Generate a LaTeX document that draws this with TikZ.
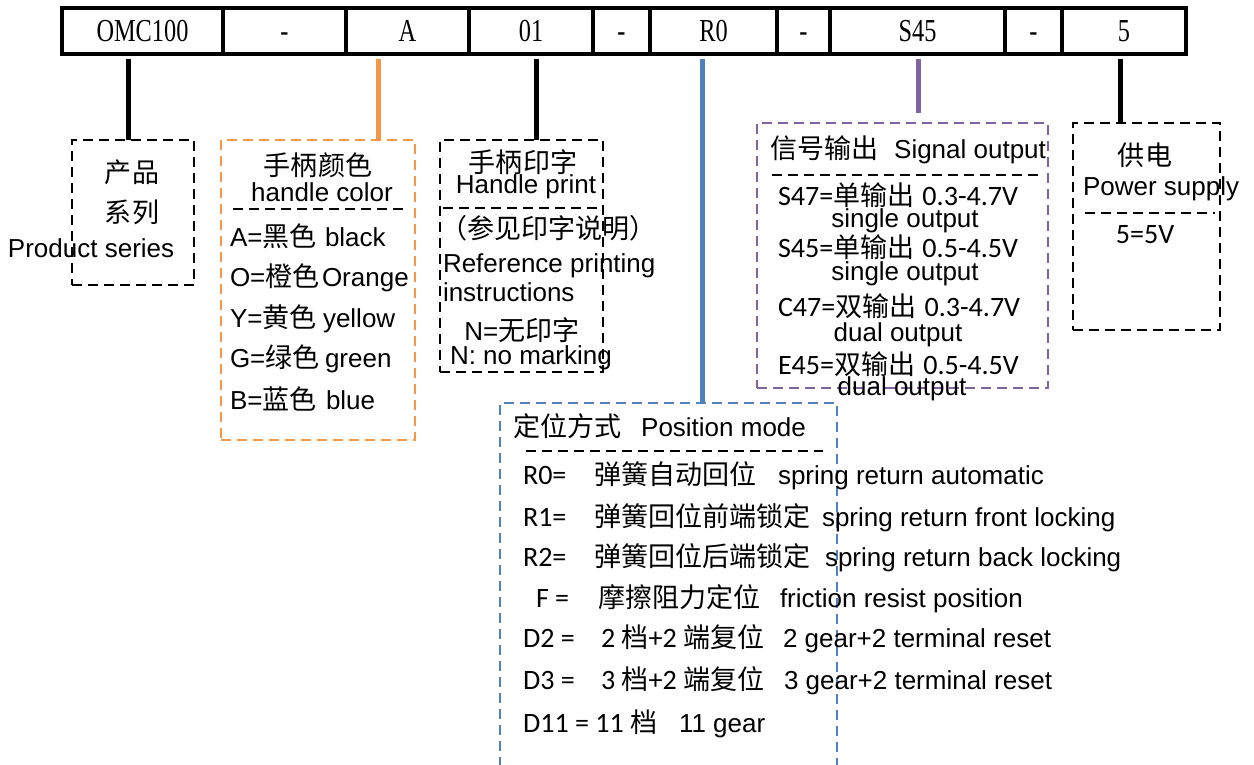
\documentclass[tikz,border=0pt]{standalone}
\usepackage{fontspec}
\setmainfont{Liberation Sans}
\newfontfamily\cjkfont[Scale=1.04]{Noto Sans CJK SC}
\newfontfamily\califont[Scale=1.08]{Carlito}
\newfontfamily\barfont[FakeStretch=0.76]{Liberation Serif}
\newcommand{\zh}[1]{{\cjkfont #1}}
\newcommand{\cb}[1]{{\califont #1}}
\definecolor{ocol}{HTML}{F79646}
\definecolor{bcol}{HTML}{4F81BD}
\definecolor{pcol}{HTML}{8064A2}
\begin{document}
\begin{tikzpicture}[x=1pt,y=-1pt,
  cell/.style={draw=black,line width=4pt,minimum height=46pt,inner sep=0pt,outer sep=0pt,text height=21pt,text depth=0pt,font=\barfont\fontsize{32}{34}\selectfont},
  boxd/.style={draw=#1,line width=2.5pt,dash pattern=on 10pt off 6pt,inner sep=0pt,outer sep=0pt},
  divline/.style={draw=black,line width=2.5pt,dash pattern=on 10pt off 6pt},
  conn/.style={draw=#1,line width=5pt},
  txt/.style={inner sep=0pt,outer sep=0pt,font=\fontsize{26}{30}\selectfont},
  bw/.style={txt,anchor=base west}]
\useasboundingbox (0,0) rectangle (1254,765);
\clip (0,0) rectangle (1254,765);
% top bar
\node[cell,minimum width=161] (c1) at (142.5,31) {OMC100};
\node[cell,minimum width=123] (c2) at (284.5,31) {-};
\node[cell,minimum width=123] (c3) at (407.5,31) {A};
\node[cell,minimum width=124] (c4) at (531,31) {01};
\node[cell,minimum width=57] (c5) at (621.5,31) {-};
\node[cell,minimum width=127] (c6) at (713.5,31) {R0};
\node[cell,minimum width=53] (c7) at (803.5,31) {-};
\node[cell,minimum width=175] (c8) at (917.5,31) {S45};
\node[cell,minimum width=57] (c9) at (1033.5,31) {-};
\node[cell,minimum width=124] (c10) at (1124,31) {5};
% boxes
\node[boxd=black,minimum width=122,minimum height=145] (prod) at (133,212.5) {};
\node[boxd=ocol,minimum width=194,minimum height=300] (hcol) at (318,290) {};
\node[boxd=black,minimum width=163,minimum height=232] (hpr) at (521.5,256) {};
\node[boxd=pcol,minimum width=291,minimum height=265] (sig) at (902.5,255.5) {};
\node[boxd=black,minimum width=147,minimum height=207] (pow) at (1146.5,226.5) {};
\node[boxd=bcol,minimum width=337,minimum height=380] (pos) at (668.5,593) {};
% connectors
\coordinate (k1) at (128,59);
\coordinate (k2) at (378,59);
\coordinate (k3) at (536,59);
\coordinate (k4) at (702,59);
\coordinate (k5) at (918,59);
\coordinate (k5e) at (918,113);
\coordinate (k6) at (1120,59);
\draw[conn=black] (k1) -- (k1 |- prod.north);
\draw[conn=ocol] (k2) -- (k2 |- hcol.north);
\draw[conn=black] (k3) -- (k3 |- hpr.north);
\draw[conn=bcol] (k4) -- (k4 |- pos.north);
\draw[conn=pcol] (k5) -- (k5e);
\draw[conn=black] (k6) -- (k6 |- pow.north);
% product series
\node[txt] (p1) at (132,172) {\zh{产品}};
\node[txt] (p2) at (132,212) {\zh{系列}};
\node[bw] (p3) at (8,257) {Product series};
% handle color
\node[txt] (h1) at (318,165) {\zh{手柄颜色}};
\node[txt] (h2) at (322,192) {handle color};
\draw[divline] (233,209) -- (405,209);
\node[bw] (ha1) at (230,246) {A=\zh{黑色}};
\node[bw] (ha2) at (325,246) {black};
\node[bw] (hb1) at (230,286) {O=\zh{橙色}};
\node[bw] (hb2) at (322,286) {Orange};
\node[bw] (hc1) at (230,327) {Y=\zh{黄色}};
\node[bw] (hc2) at (323,327) {yellow};
\node[bw] (hd1) at (230,367) {G=\zh{绿色}};
\node[bw] (hd2) at (325,367) {green};
\node[bw] (he1) at (230,409) {B=\zh{蓝色}};
\node[bw] (he2) at (326,409) {blue};
% handle print
\node[txt] (t1) at (523,162) {\zh{手柄印字}};
\node[txt] (t2) at (526,187) {Handle print};
\draw[divline] (443,208) -- (597,208);
\node[txt,anchor=west] (t3) at (440,228) {\zh{（参见印字说明）}};
\node[bw] (t4) at (443,272) {Reference printing};
\node[bw] (t5) at (443,301) {instructions};
\node[txt] (t6) at (522,330) {N=\zh{无印字}};
\node[bw] (t7) at (450,364) {N: no marking};
% signal output
\node[bw] (s0) at (770,159) {\zh{信号输出}\hspace{16pt}Signal output};
\draw[divline] (772,175) -- (1038,175);
\node[bw] (s1) at (778,206) {\cb{S47=}\zh{单输出}\hspace{8pt}\cb{0.3-4.7V}};
\node[txt] (s1e) at (905,221) {single output};
\node[bw] (s2) at (778,257) {\cb{S45=}\zh{单输出}\hspace{8pt}\cb{0.5-4.5V}};
\node[txt] (s2e) at (905,274) {single output};
\node[bw] (s3) at (778,316) {\cb{C47=}\zh{双输出}\hspace{8pt}\cb{0.3-4.7V}};
\node[txt] (s3e) at (898,335) {dual output};
\node[bw] (s4) at (778,374) {\cb{E45=}\zh{双输出}\hspace{8pt}\cb{0.5-4.5V}};
\node[txt] (s4e) at (902,389) {dual output};
% power supply
\node[txt] (w1) at (1145,155) {\zh{供电}};
\node[bw] (w2) at (1083,196) {Power supply};
\draw[divline] (1085,213) -- (1215,213);
\node[txt] (w3) at (1145,235) {\cb{5=5V}};
% position mode
\node[bw] (m0) at (513,436) {\zh{定位方式}\hspace{20pt}Position mode};
\draw[divline] (526,451) -- (823,451);
\node[bw] (r1a) at (523,484) {\cb{R0=}};
\node[bw] (r1b) at (594,484) {\zh{弹簧自动回位}};
\node[bw] (r1c) at (778,484) {spring return automatic};
\node[bw] (r2a) at (523,526) {\cb{R1=}};
\node[bw] (r2b) at (594,526) {\zh{弹簧回位前端锁定}};
\node[bw] (r2c) at (822,526) {spring return front locking};
\node[bw] (r3a) at (523,566) {\cb{R2=}};
\node[bw] (r3b) at (594,566) {\zh{弹簧回位后端锁定}};
\node[bw] (r3c) at (825,566) {spring return back locking};
\node[bw] (r4a) at (536,607) {\cb{F =}};
\node[bw] (r4b) at (598,607) {\zh{摩擦阻力定位}};
\node[bw] (r4c) at (780,607) {friction resist position};
\node[bw] (r5a) at (523,647) {\cb{D2 =}};
\node[bw] (r5b) at (601,647) {\cb{2 }\zh{档}\cb{+2 }\zh{端复位}};
\node[bw] (r5c) at (783,647) {2 gear+2 terminal reset};
\node[bw] (r6a) at (523,689) {\cb{D3 =}};
\node[bw] (r6b) at (601,689) {\cb{3 }\zh{档}\cb{+2 }\zh{端复位}};
\node[bw] (r6c) at (784,689) {3 gear+2 terminal reset};
\node[bw] (r7a) at (523,732) {\cb{D11 = 11 }\zh{档}};
\node[bw] (r7c) at (679,732) {11 gear};
\end{tikzpicture}
\end{document}
